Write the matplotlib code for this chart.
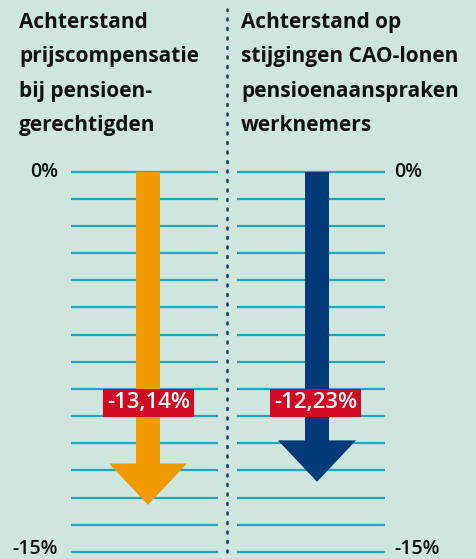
import numpy as np
import matplotlib.pyplot as plt
from matplotlib.patches import Polygon

# data
titles = ["Achterstand\nprijscompensatie\nbij pensioen-\ngerechtigden",
          "Achterstand op\nstijgingen CAO-lonen\npensioenaanspraken\nwerknemers"]
values = [-13.14, -12.23]
labels = ["-13,14%", "-12,23%"]
colors = ["#f39a00", "#003a78"]
y_ticks = [0, -15]
tick_labels = ["0%", "-15%"]

bg = "#cee6de"
line_col = "#1ea6c8"
red = "#d00a22"

W, H = 476, 559
fig = plt.figure(figsize=(W / 100, H / 100), dpi=100, facecolor=bg)

top_px, bot_px = 171.5, 552
ax = fig.add_axes([0, 1 - bot_px / H, 1, (bot_px - top_px) / H])
ax.set_facecolor(bg)
ax.set_xlim(0, W)
ax.set_ylim(-15, 0)
ax.axis("off")

# grid lines
grid_y = np.linspace(0, -15, 15)
for gy in grid_y:
    ax.plot([71, 218], [gy, gy], color=line_col, lw=1.6, solid_capstyle="butt", clip_on=False)
    ax.plot([237, 385], [gy, gy], color=line_col, lw=1.6, solid_capstyle="butt", clip_on=False)

# dotted divider
ax.plot([227, 227], [-15, 6.4], color="#0d3a78", lw=1.8, ls=(0, (0.8, 3.0)),
        dash_capstyle="round", clip_on=False)

# arrows
centers = [148, 317]
shaft_w, head_w, head_len = 24, 78, 1.63
for cx, v, c in zip(centers, values, colors):
    pts = [(cx - shaft_w / 2, 0), (cx + shaft_w / 2, 0),
           (cx + shaft_w / 2, v + head_len), (cx + head_w / 2, v + head_len),
           (cx, v), (cx - head_w / 2, v + head_len),
           (cx - shaft_w / 2, v + head_len)]
    ax.add_patch(Polygon(pts, closed=True, facecolor=c, edgecolor="none", zorder=3))

# value labels
label_x = [148.5, 315.5]
for lx, lab in zip(label_x, labels):
    ax.text(lx, -9.12, lab, ha="center", va="center", color="white", fontsize=16,
            fontfamily="Open Sans", fontweight="semibold", zorder=5,
            bbox=dict(boxstyle="square,pad=0.16", facecolor=red, edgecolor="none"))

# tick labels
for ty, tl in zip(y_ticks, tick_labels):
    yy = ty if ty == 0 else ty + 0.12
    ax.text(58, yy, tl, ha="right", va="center", fontsize=14, fontfamily="Open Sans",
            fontweight="semibold", color="#111111", clip_on=False)
    ax.text(394, yy, tl, ha="left", va="center", fontsize=14, fontfamily="Open Sans",
            fontweight="semibold", color="#111111", clip_on=False)

# titles
fig.text(19 / W, 1 - 12 / H, titles[0], ha="left", va="top", fontsize=15,
         fontfamily="Open Sans", fontweight="bold", linespacing=1.84, color="#111111")
fig.text(241 / W, 1 - 12 / H, titles[1], ha="left", va="top", fontsize=15,
         fontfamily="Open Sans", fontweight="bold", linespacing=1.84, color="#111111")

fig.savefig("out.png", dpi=100, facecolor=bg)
